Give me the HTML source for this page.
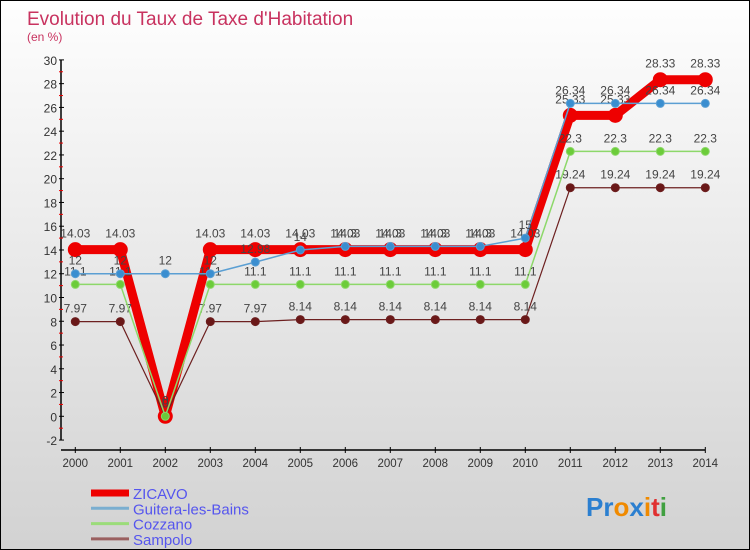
<!DOCTYPE html>
<html><head><meta charset="utf-8"><style>
body{margin:0}
#c{width:748px;height:548px;border:1px solid #000;background:linear-gradient(#fefefe,#d2d2d2);position:relative;overflow:hidden;font-family:"Liberation Sans",sans-serif}
</style></head><body>
<div id="c">
<svg id="s" width="748" height="548"></svg>
</div>
<script>
const years=[2000,2001,2002,2003,2004,2005,2006,2007,2008,2009,2010,2011,2012,2013,2014];
const zicavo=[14.03,14.03,0,14.03,14.03,14.03,14.03,14.03,14.03,14.03,14.03,25.33,25.33,28.33,28.33];
const guitera=[12,12,12,12,12.98,14,14.3,14.3,14.3,14.3,15,26.34,26.34,26.34,26.34];
const cozzano=[11.1,11.1,0,11.1,11.1,11.1,11.1,11.1,11.1,11.1,11.1,22.3,22.3,22.3,22.3];
const sampolo=[7.97,7.97,0,7.97,7.97,8.14,8.14,8.14,8.14,8.14,8.14,19.24,19.24,19.24,19.24];
const yTicks=[-2,0,2,4,6,8,10,12,14,16,18,20,22,24,26,28,30];
const NS='http://www.w3.org/2000/svg';
const svg=document.getElementById('s');
const X=i=>74.3+45*i;
const Y=v=>415.3-11.88*v;
function mk(t,a,p){const e=document.createElementNS(NS,t);for(const k in a)e.setAttribute(k,a[k]);(p||svg).appendChild(e);return e;}
let t=mk('text',{x:26,y:24,fill:'#c8325f','font-size':19});t.textContent="Evolution du Taux de Taxe d'Habitation";


t=mk('text',{x:26,y:40,fill:'#c8325f','font-size':12});t.textContent="(en %)";


let a=mk('line',{x1:60,y1:Y(30),x2:60,y2:Y(-2),stroke:'#000','stroke-width':1.5});


a=mk('line',{x1:60,y1:449,x2:X(14),y2:449,stroke:'#000','stroke-width':1.5});


yTicks.forEach(v=>{mk('line',{x1:58,y1:Y(v),x2:63,y2:Y(v),stroke:'#000'});
 if(v<30)mk('line',{x1:58,y1:Y(v+1),x2:62,y2:Y(v+1),stroke:'#e00'});
 const l=mk('text',{x:56,y:Y(v)+5,'text-anchor':'end','font-size':12,fill:'#333'});l.textContent=v;
 
 });
years.forEach((y,i)=>{mk('line',{x1:X(i),y1:446,x2:X(i),y2:452,stroke:'#000'});
 const l=mk('text',{x:X(i),y:466,'text-anchor':'middle','font-size':11.5,fill:'#333'});l.textContent=y;
 
 });
function series(d,col,w,r,fill,name,dy){
 const g=mk('g',{});
 
 
 mk('polyline',{points:d.map((v,i)=>X(i)+','+Y(v)).join(' '),fill:'none',stroke:col,'stroke-width':w,'stroke-linejoin':'round'},g);
 d.forEach((v,i)=>{const c=mk('circle',{cx:X(i),cy:Y(v),r:r,fill:fill,stroke:col,'stroke-width':1},g);
  
  
  const l=mk('text',{x:X(i),y:Y(v)-dy,'text-anchor':'middle','font-size':12,fill:'#444'},g);l.textContent=v;
  
  });
}
series(zicavo,'#e00',9,7,'#e00','zicavo',12);
series(sampolo,'#6d2020',1.2,4,'#6a1818','sampolo',9);
series(cozzano,'#8dd86a',1.5,4,'#6ccc3a','cozzano',9);
series(guitera,'#5b9fd3',1.5,4,'#3a8ed0','guitera',9);
const leg=[['ZICAVO','#e00',7],['Guitera-les-Bains','#7aaed0',3],['Cozzano','#9bdc7a',3],['Sampolo','#9a6060',3]];
leg.forEach((e,i)=>{const g=mk('g',{});
 
 
 const yy=492+15.3*i;
 mk('line',{x1:90,y1:yy,x2:128,y2:yy,stroke:e[1],'stroke-width':e[2]},g);
 const l=mk('text',{x:132,y:yy+6,'font-size':15,fill:'#5555ee'},g);l.textContent=e[0];});
const p=mk('text',{x:585,y:515,'font-size':26,'font-weight':'bold'});


[['Pr','#2b7fd0'],['o','#f08a00'],['x','#2b7fd0'],['i','#f08a00'],['t','#e03030'],['i','#40a040']].forEach(s=>{const ts=mk('tspan',{fill:s[1]},p);ts.textContent=s[0];});
</script>
</body></html>
